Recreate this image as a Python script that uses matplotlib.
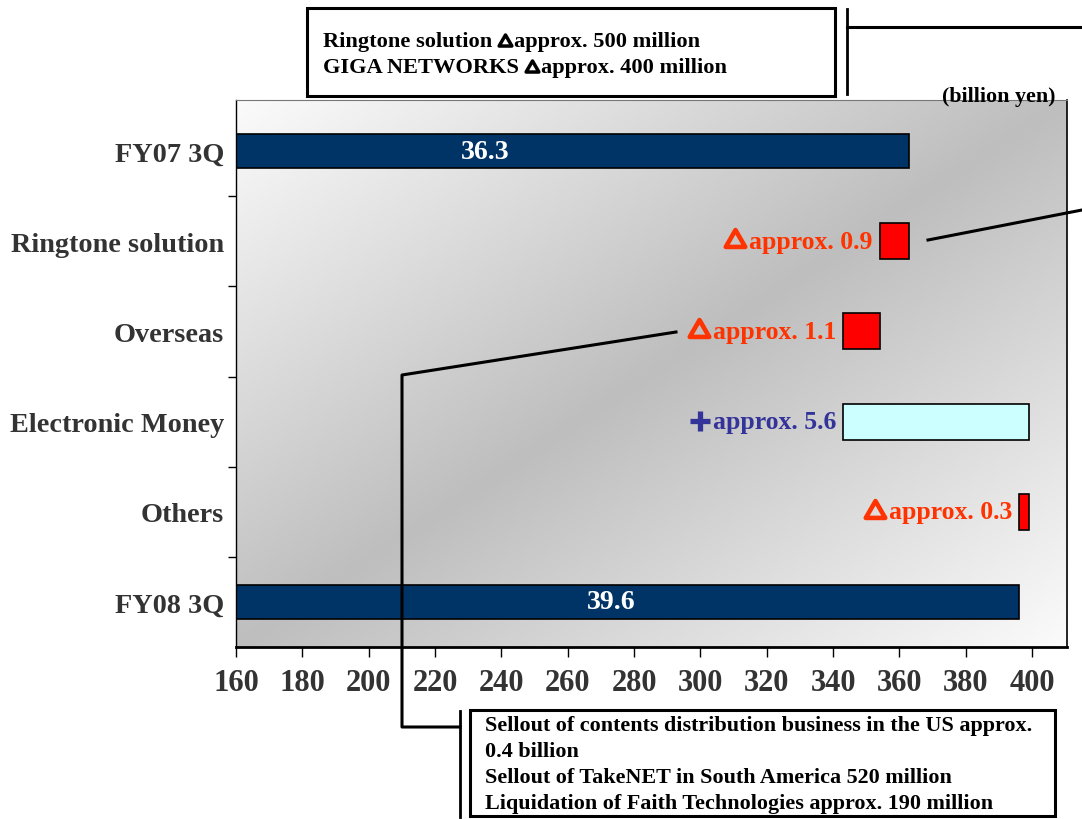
import matplotlib
matplotlib.use("Agg")
import matplotlib.pyplot as plt
from matplotlib.patches import Rectangle
from matplotlib.markers import MarkerStyle
from matplotlib.path import Path
import numpy as np

plt.rcParams['font.family'] = ['Liberation Serif', 'DejaVu Serif']
plt.rcParams['font.weight'] = 'bold'

# waterfall data (100 million yen)
categories = ["FY07 3Q", "Ringtone solution", "Overseas", "Electronic Money", "Others", "FY08 3Q"]
starts = [0, 354, 343, 343, 396, 0]
ends = [363, 363, 354, 399, 399, 396]
kinds = ["total", "down", "down", "up", "down", "total"]
bar_texts = ["36.3", "", "", "", "", "39.6"]
delta_texts = ["", "approx. 0.9", "approx. 1.1", "approx. 5.6", "approx. 0.3", ""]
total_label_x = [235, None, None, None, None, 273]
x_ticks = list(range(160, 401, 20))

top_note = [("Ringtone solution", "approx. 500 million"),
            ("GIGA NETWORKS", "approx. 400 million")]
bottom_note = ["Sellout of contents distribution business in the US approx.",
               "0.4 billion",
               "Sellout of TakeNET in South America 520 million",
               "Liquidation of Faith Technologies approx. 190 million"]

fill = {"total": "#003366", "down": "#FF0000", "up": "#CCFFFF"}
txtcol = {"down": "#FF3300", "up": "#333399"}

# outlined triangle used for the "decrease" sign
tri = MarkerStyle(Path([(-1, -0.866), (1, -0.866), (0, 0.866), (-1, -0.866)], closed=True),
                  joinstyle='miter')

fig = plt.figure(figsize=(10.82, 8.2), dpi=100)
ax = fig.add_axes([236 / 1082, 1 - 648 / 820, 831 / 1082, 547 / 820])

# gradient background
u, v = np.meshgrid(np.linspace(0, 1, 300), np.linspace(0, 1, 300))
t = 1 - np.abs(u + v - 1)
shade = 0.985 - 0.24 * t
ax.imshow(np.dstack([shade, shade, shade]), extent=[0, 1, 0, 1], transform=ax.transAxes,
          aspect='auto', zorder=0, interpolation='bilinear')

y = np.arange(len(categories))
left = [s if k != "total" else 150 for s, k in zip(starts, kinds)]
widths = [e - l for e, l in zip(ends, left)]
for i in range(len(categories)):
    h = 0.38 if kinds[i] == "total" else 0.4
    ax.barh(y[i], widths[i], left=left[i], height=h, color=fill[kinds[i]],
            edgecolor='black', linewidth=1.2, zorder=2)
    if bar_texts[i]:
        ax.text(total_label_x[i], y[i], bar_texts[i], color='white', fontsize=20,
                fontweight='bold', ha='center', va='center', zorder=3)

ax.set_xlim(160, 410.5)
ax.set_ylim(len(categories) - 0.5, -0.567)
ax.set_xticks(x_ticks)
ax.set_xticklabels([str(x) for x in x_ticks], fontsize=22, fontweight='bold', color='#333333')
ax.set_yticks(y)
ax.set_yticklabels(categories, fontsize=20.3, fontweight='bold', color='#333333')
ax.set_yticks(y[:-1] + 0.5, minor=True)
ax.tick_params(axis='y', which='major', length=0, pad=8.5)
ax.tick_params(axis='y', which='minor', length=6, width=1, direction='out')
ax.tick_params(axis='x', length=7, width=1, direction='out', pad=8)
ax.spines['bottom'].set_linewidth(2)
ax.spines['left'].set_linewidth(1)
ax.spines['right'].set_linewidth(1.2)
ax.spines['top'].set_color('#777777')

# overlay for callouts, in pixel coordinates
ov = fig.add_axes([0, 0, 1, 1], zorder=5)
ov.set_xlim(0, 1082)
ov.set_ylim(820, 0)
ov.axis('off')
ov.patch.set_alpha(0)
rend = fig.canvas.get_renderer()


def to_px(xd, yd):
    X, Y = ax.transData.transform((xd, yd))
    return X, 820 - Y


# change labels next to the small bars
for i in range(len(categories)):
    if not delta_texts[i]:
        continue
    bx, by = to_px(starts[i], y[i])
    col = txtcol[kinds[i]]
    tx = ov.text(bx - 7, by, delta_texts[i], ha='right', va='center', color=col,
                 fontsize=18.5, fontweight='bold')
    w = tx.get_window_extent(rend).width
    if kinds[i] == "down":
        ov.plot(bx - 7 - w - 14, by - 3, marker=tri, ms=14, mfc='none', mec=col, mew=3.3)
    else:
        ov.plot(bx - 7 - w - 12.5, by - 1, marker='+', ms=14.4, mec=col, mew=3.8)

ov.add_patch(Rectangle((307, 9), 528, 88, facecolor='white', edgecolor='black', linewidth=2.2))
for k, (a, b) in enumerate(top_note):
    ly = 42 + 26 * k
    ta = ov.text(323, ly, a, fontsize=16.1, fontweight='bold', va='center', ha='left')
    wa = ta.get_window_extent(rend).width
    ov.plot(323 + wa + 13, ly - 1.5, marker=tri, ms=9.2, mfc='none', mec='black', mew=2.5)
    ov.text(323 + wa + 22, ly, b, fontsize=16.1, fontweight='bold', va='center', ha='left')
ov.plot([847, 847], [10, 95], color='black', lw=2)
ov.plot([847, 1082], [28, 28], color='black', lw=2.2)
ov.plot([928, 1082], [241, 211], color='black', lw=2.2)
ov.text(1055, 97, "(billion yen)", fontsize=15.8, fontweight='bold', ha='right', va='center')

ov.plot([676, 402, 402, 460], [333, 376, 728, 728], color='black', lw=2.2)
ov.plot([460, 460], [712, 818], color='black', lw=2)
ov.add_patch(Rectangle((470, 711), 585, 106, facecolor='white', edgecolor='black', linewidth=2.2))
for k, line in enumerate(bottom_note):
    ov.text(485, 726 + 26 * k, line, fontsize=15.9, fontweight='bold', va='center', ha='left')

fig.savefig("out.png", dpi=100)
